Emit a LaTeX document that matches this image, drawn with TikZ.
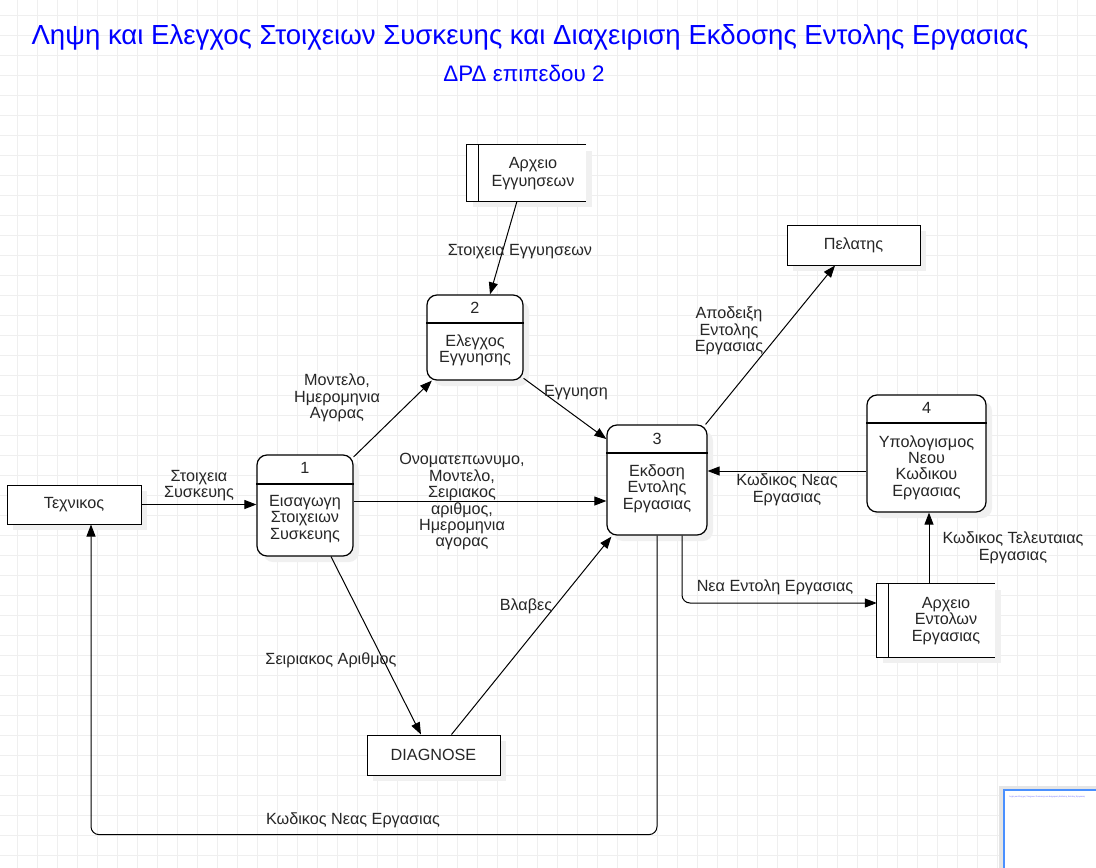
\documentclass[tikz,border=0pt]{standalone}
\usepackage{fontspec}
\setmainfont{Liberation Sans}
\usepackage{xcolor}
\usetikzlibrary{arrows.meta,shadows}

\newcommand{\lblfont}{\fontsize{16.2}{16.4}\selectfont}
\definecolor{gridgray}{HTML}{EFEFEF}
\definecolor{titleblue}{HTML}{0000FF}
\definecolor{mapblue}{HTML}{4A90FF}

\tikzset{
  gridline/.style={gridgray, line width=0.9pt},
  proc/.style={draw, line width=1.2pt, rounded corners=10pt, fill=white,
    drop shadow={shadow xshift=6pt, shadow yshift=-6pt, fill=black!6, opacity=1}},
  ent/.style={draw, line width=1pt, fill=white, font=\lblfont, text=black!85,
    drop shadow={shadow xshift=6pt, shadow yshift=-6pt, fill=black!6, opacity=1}},
  store/.style={fill=white, inner sep=0pt},
  lbl/.style={align=center, font=\lblfont, text=black!85, inner sep=0pt},
  flow/.style={->, line width=1pt},
}

\begin{document}
\begin{tikzpicture}[x=1pt,y=-1pt,>={Triangle[length=12pt,width=9pt]}]
      \fill[white] (0,0) rectangle (1096,868);
      \useasboundingbox (0,0) rectangle (1096,868);

      % background grid
      \foreach \gx in {17,37,...,1097} \draw[gridline] (\gx,0) -- (\gx,868);
      \foreach \gy in {15,35,...,868} \draw[gridline] (0,\gy) -- (1096,\gy);

      % titles
      \node[text=titleblue, font=\fontsize{27.6}{30}\selectfont] (title) at (530,37) {Ληψη και Ελεγχος Στοιχειων Συσκευης και Διαχειριση Εκδοσης Εντολης Εργασιας};
      \node[text=titleblue, font=\fontsize{22.4}{25}\selectfont] (subtitle) at (524,73) {ΔΡΔ επιπεδου 2};

      % external entities
      \node[ent, minimum width=134pt, minimum height=39pt] (tech) at (74,504.5) {Τεχνικος};
      \node[ent, minimum width=133pt, minimum height=40pt] (client) at (853.5,245) {Πελατης};
      \node[ent, minimum width=133pt, minimum height=40pt] (diag) at (433.5,755) {DIAGNOSE};

      % processes
      \node[proc, minimum width=96pt, minimum height=101pt] (p1) at (305,505.5) {};
      \draw[line width=1.2pt] (p1.west |- 0,484) -- (p1.east |- 0,484);
      \node[lbl] (p1n) at (305,468) {1};
      \node[lbl] (p1t) at (305,519) {Εισαγωγη\\Στοιχειων\\Συσκευης};

      \node[proc, minimum width=96pt, minimum height=85pt] (p2) at (475,337.5) {};
      \draw[line width=1.2pt] (p2.west |- 0,323) -- (p2.east |- 0,323);
      \node[lbl] (p2n) at (475,308) {2};
      \node[lbl] (p2t) at (475,350.5) {Ελεγχος\\Εγγυησης};

      \node[proc, minimum width=100pt, minimum height=110pt] (p3) at (657,480) {};
      \draw[line width=1.2pt] (p3.west |- 0,453) -- (p3.east |- 0,453);
      \node[lbl] (p3n) at (657,439) {3};
      \node[lbl] (p3t) at (657,488.5) {Εκδοση\\Εντολης\\Εργασιας};

      \node[proc, minimum width=119pt, minimum height=117pt] (p4) at (926.5,453.5) {};
      \draw[line width=1.2pt] (p4.west |- 0,423) -- (p4.east |- 0,423);
      \node[lbl] (p4n) at (926.5,408) {4};
      \node[lbl] (p4t) at (926.5,467.5) {Υπολογισμος\\Νεου\\Κωδικου\\Εργασιας};

      % data stores
      \fill[black!6] (473,151) rectangle (592,207);
      \node[store, minimum width=119pt, minimum height=56pt] (sw) at (526.5,173) {};
      \draw[line width=1pt] (sw.north east) -- (sw.north west) -- (sw.south west) -- (sw.south east);
      \draw[line width=1pt] ([xshift=12pt]sw.north west) -- ([xshift=12pt]sw.south west);
      \node[lbl] (swt) at (533,174) {Αρχειο\\[1.6pt]Εγγυησεων};

      \fill[black!6] (883,590) rectangle (1001,663);
      \node[store, minimum width=118pt, minimum height=73pt] (se) at (936,620.5) {};
      \draw[line width=1pt] (se.north east) -- (se.north west) -- (se.south west) -- (se.south east);
      \draw[line width=1pt] ([xshift=12pt]se.north west) -- ([xshift=12pt]se.south west);
      \node[lbl] (set) at (946,621) {Αρχειο\\Εντολων\\Εργασιας};

      % flows
      \draw[flow] (tech.east) -- (tech.east -| p1.west);
      \node[lbl] (l1) at (199,485.5) {Στοιχεια\\Συσκευης};

      \draw[flow] ([xshift=-9.5pt]sw.south) -- ([xshift=15pt]p2.north);
      \node[lbl] (l2) at (520,252) {Στοιχεια Εγγυησεων};

      \draw[flow] (p1.45) -- (p2.-135);
      \node[lbl] (l3) at (337,398) {Μοντελο,\\Ημερομηνια\\Αγορας};

      \draw[flow] (p2.-40) -- (p3.141);
      \node[lbl] (l4) at (576,393) {Εγγυηση};

      \draw[flow] ([yshift=4.5pt]p1.east) coordinate (a) -- (a -| p3.west);
      \node[lbl] (l5) at (462,502) {Ονοματεπωνυμο,\\Μοντελο,\\Σειριακος\\αριθμος,\\Ημερομηνια\\αγορας};

      \draw[flow] ([xshift=26pt]p1.south) -- ([xshift=-12.5pt]diag.north);
      \node[lbl] (l6) at (331,660) {Σειριακος Αριθμος};

      \draw[flow] ([xshift=18pt]diag.north) -- ([xshift=5pt,yshift=-1pt]p3.south west);
      \node[lbl] (l7) at (526,606) {Βλαβες};

      \draw[flow] ([xshift=-2pt]p3.north east) -- ([xshift=-18.5pt]client.south);
      \node[lbl] (l8) at (729,331) {Αποδειξη\\Εντολης\\Εργασιας};

      \draw[flow] ([yshift=-17.5pt]p4.west) coordinate (b) -- (b -| p3.east);
      \node[lbl] (l9) at (787,490) {Κωδικος Νεας\\Εργασιας};

      \draw[flow] ([xshift=2.5pt]p4.south |- se.north) -- ([xshift=2.5pt]p4.south);
      \node[lbl] (l10) at (1013,548) {Κωδικος Τελευταιας\\Εργασιας};

      \draw[flow, rounded corners=8pt] ([xshift=25pt]p3.south) |- ([yshift=17.5pt]se.west);
      \node[lbl] (l11) at (775,587) {Νεα Εντολη Εργασιας};

      \draw[flow, rounded corners=8pt] (p3.south) -- ++(0,299) -| ([xshift=17pt]tech.south);
      \node[lbl] (l12) at (353,820) {Κωδικος Νεας Εργασιας};

      % overview frame
      \fill[black!10] (999,786) rectangle (1096,868);
      \draw[mapblue, line width=2pt, fill=white] (1004,790) rectangle (1102,874);
      \node[text=titleblue!60, font=\fontsize{2.1}{2.5}\selectfont, anchor=west, inner sep=0pt] (maptitle) at (1009,797) {Ληψη και Ελεγχος Στοιχειων Συσκευης και Διαχειριση Εκδοσης Εντολης Εργασιας};
\end{tikzpicture}
\end{document}
